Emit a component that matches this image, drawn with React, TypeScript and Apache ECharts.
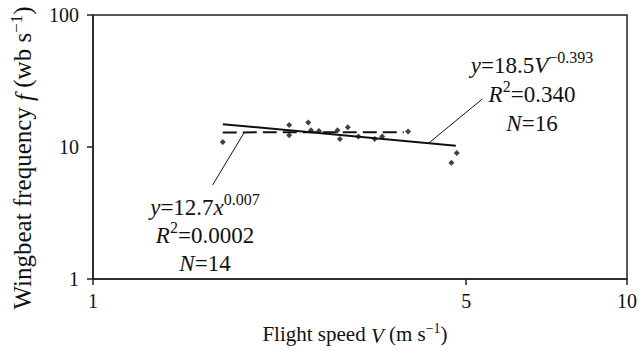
import React, { useEffect, useRef } from "react";
import * as echarts from "echarts";

// observed points: flight speed V (m/s) and wingbeat frequency f (wb/s)
const speeds = [1.75, 2.33, 2.33, 2.53, 2.56, 2.65, 2.87, 2.9, 3.0, 3.14, 3.37, 3.48, 3.89, 4.8, 4.69];
const freqs = [10.9, 14.7, 12.3, 15.3, 13.4, 13.2, 13.4, 11.5, 14.1, 12.0, 11.5, 12.0, 13.1, 9.0, 7.6];

// fitted lines (end points)
const solidFitV = [1.75, 4.78];
const solidFitF = [14.9, 10.2];
const dashedFitV = [1.75, 3.82];
const dashedFitF = [12.9, 12.95];

// leader lines of the annotations
const leftLeaderV = [1.92, 1.675];
const leftLeaderF = [12.9, 5.15];
const rightLeaderV = [4.24, 5.36];
const rightLeaderF = [10.6, 23.1];

// tick labels
const xTicks = [1, 5, 10];
const yTicks = [1, 10, 100];

const FONT = "'Liberation Serif', 'Times New Roman', serif";

const pairs = (xs: number[], ys: number[]) => xs.map((x, i) => [x, ys[i]]);

export default function App() {
  const ref = useRef<HTMLDivElement>(null);
  useEffect(() => {
    if (!ref.current) return;
    const chart = echarts.init(ref.current, null, { renderer: "svg" });
    const annRich = {
      n: { fontFamily: FONT, fontSize: 23, color: "#111", lineHeight: 27, verticalAlign: "bottom" },
      i: { fontFamily: FONT, fontSize: 23, fontStyle: "italic", color: "#111", lineHeight: 27, verticalAlign: "bottom" },
      sup: { fontFamily: FONT, fontSize: 16, color: "#111", lineHeight: 16, verticalAlign: "top" },
    };
    const txt = (text: string, x: number, y: number) => ({
      type: "text",
      x,
      y,
      style: {
        text,
        rich: annRich,
        align: "center",
        verticalAlign: "middle",
        fill: "#111",
        font: `23px ${FONT}`,
      },
    });
    const nameRich = (size: number) => ({
      i: { fontFamily: FONT, fontSize: size, fontStyle: "italic", color: "#111", lineHeight: size + 4, verticalAlign: "bottom" },
      sup: { fontFamily: FONT, fontSize: Math.round(size * 0.68), color: "#111", lineHeight: Math.round(size * 0.68), verticalAlign: "top" },
    });
    const lineStyleBase = { color: "#111" };
    chart.setOption({
      animation: false,
      grid: {
        left: 86,
        right: 11,
        top: 15,
        bottom: 72,
        show: true,
        borderColor: "#222",
        borderWidth: 1.5,
        backgroundColor: "transparent",
      },
      xAxis: {
        type: "log",
        logBase: 10,
        min: 1,
        max: 10,
        name: "Flight speed {i|V} (m s{sup|−1})",
        nameLocation: "middle",
        nameGap: 42,
        nameTextStyle: {
          fontFamily: FONT,
          fontSize: 21,
          color: "#111",
          padding: [0, 10, 0, 0],
          rich: nameRich(21),
        },
        axisLine: { show: true, lineStyle: { color: "#222", width: 1.5 } },
        axisTick: { show: true, length: 6, customValues: xTicks, lineStyle: { color: "#222", width: 1.5 } },
        axisLabel: {
          customValues: xTicks,
          fontFamily: FONT,
          fontSize: 20,
          color: "#111",
          margin: 12,
          formatter: (v: number) => String(Math.round(v)),
        },
        minorTick: { show: false },
        splitLine: { show: false },
      },
      yAxis: {
        type: "log",
        logBase: 10,
        min: 1,
        max: 100,
        name: "Wingbeat frequency {i|f} (wb s{sup|−1})",
        nameLocation: "middle",
        nameGap: 56,
        nameRotate: 90,
        nameTextStyle: {
          fontFamily: FONT,
          fontSize: 25,
          color: "#111",
          padding: [0, 22, 0, 0],
          rich: nameRich(25),
        },
        axisLine: { show: true, lineStyle: { color: "#222", width: 1.5 } },
        axisTick: { show: true, length: 6, customValues: yTicks, lineStyle: { color: "#222", width: 1.5 } },
        axisLabel: {
          customValues: yTicks,
          fontFamily: FONT,
          fontSize: 20,
          color: "#111",
          margin: 14,
          formatter: (v: number) => String(Math.round(v)),
        },
        minorTick: { show: false },
        splitLine: { show: false },
      },
      series: [
        {
          type: "line",
          data: pairs(solidFitV, solidFitF),
          showSymbol: false,
          symbol: "none",
          lineStyle: { ...lineStyleBase, width: 2 },
          silent: true,
        },
        {
          type: "line",
          data: pairs(dashedFitV, dashedFitF),
          showSymbol: false,
          symbol: "none",
          lineStyle: { ...lineStyleBase, width: 2, type: [14, 6] },
          silent: true,
        },
        {
          type: "line",
          data: pairs(leftLeaderV, leftLeaderF),
          showSymbol: false,
          symbol: "none",
          lineStyle: { ...lineStyleBase, width: 1 },
          silent: true,
        },
        {
          type: "line",
          data: pairs(rightLeaderV, rightLeaderF),
          showSymbol: false,
          symbol: "none",
          lineStyle: { ...lineStyleBase, width: 1 },
          silent: true,
        },
        {
          type: "scatter",
          data: pairs(speeds, freqs),
          symbol: "diamond",
          symbolSize: 6,
          itemStyle: { color: "#111" },
        },
      ],
      graphic: [
        txt("{i|y}{n|=18.5}{i|V}{sup|−0.393}", 532, 63),
        txt("{i|R}{sup|2}{n|=0.340}", 532, 92),
        txt("{i|N}{n|=16}", 532, 121),
        txt("{i|y}{n|=12.7}{i|x}{sup|0.007}", 205, 205),
        txt("{i|R}{sup|2}{n|=0.0002}", 205, 233),
        txt("{i|N}{n|=14}", 205, 261),
      ],
    });
    return () => chart.dispose();
  }, []);
  return <div ref={ref} style={{ width: 640, height: 351, position: "absolute", left: 0, top: 0 }} />;
}
